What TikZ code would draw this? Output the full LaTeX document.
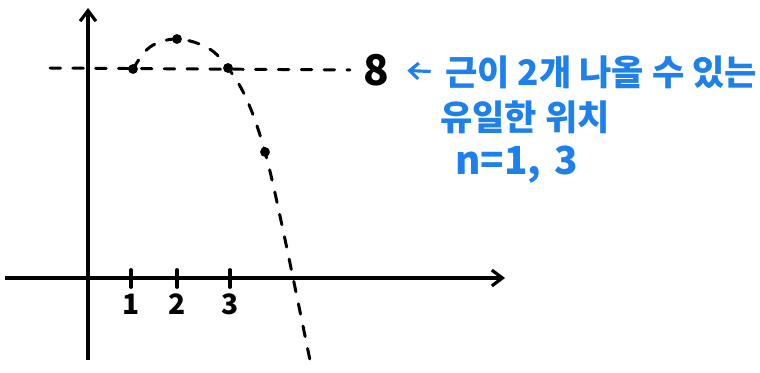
\documentclass[tikz,border=0pt]{standalone}
\usepackage{fontspec}
\setmainfont{Noto Sans CJK KR}
\usetikzlibrary{arrows.meta,positioning}
\definecolor{pluma}{RGB}{30,128,235}
\tikzset{
  eje/.style={line width=2.2pt,-{Straight Barb[length=6pt,width=9pt,line width=1.8pt]}},
  guia/.style={line width=1.7pt,dash pattern=on 6pt off 7pt,line cap=round},
  punto/.style={circle,fill=black,inner sep=0pt,minimum size=5.6pt},
  marca/.style={line width=2.2pt,line cap=round},
  nota/.style={text=pluma,font=\fontsize{20}{24}\selectfont\bfseries,inner sep=1pt},
  flecha/.style={pluma,line width=1.8pt,-{Straight Barb[length=5pt,width=9pt]}},
}
\begin{document}
\begin{tikzpicture}[x=0.02cm,y=-0.02cm]
  \useasboundingbox (0,0) rectangle (760,372);
  % ejes
  \coordinate (xi) at (5,278);  \coordinate (xf) at (505,278);
  \coordinate (yi) at (88,360); \coordinate (yf) at (88,8);
  \draw[eje] (xi) -- (xf);
  \draw[eje] (yi) -- (yf);
  \foreach \x/\n in {131/1,177/2,230/3}{
    \draw[marca] (\x,270) -- (\x,287);
    \node[font=\fontsize{16}{16}\selectfont\bfseries] (t\n) at (\x,304) {\n};
  }
  % puntos y curva
  \node[punto] (p1) at (133,69) {};
  \node[punto] (p2) at (177,39) {};
  \node[punto] (p3) at (228,68) {};
  \node[punto] (p4) at (265,152) {};
  \node[font=\fontsize{24}{24}\selectfont\bfseries] (ocho) at (376,70) {8};
  \coordinate (hi) at (50,68);
  \draw[guia] (hi) -- (ocho.west) [shorten >=4pt];
  \draw[guia] plot[smooth,tension=0.6] coordinates
    {(p1) (150,47) (p2) (208,48) (p3) (247,100) (p4) (283,230) (312,370)};
  % nota
  \node[nota,anchor=west] (l1) at (443,72) {근이 2개 나올 수 있는};
  \node[nota,anchor=west] (l2) at (438,117) {유일한 위치};
  \node[nota,anchor=west,font=\fontsize{22}{24}\selectfont\bfseries] (l3) at (453,165) {n=1,\,\,3};
  \draw[flecha,shorten <=7pt,shorten >=7pt] (l1.west) -- (ocho.east);
\end{tikzpicture}
\end{document}
